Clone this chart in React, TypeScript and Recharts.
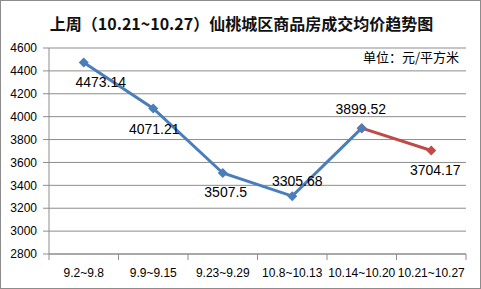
import React from 'react';
import { LineChart, Line, XAxis, YAxis, CartesianGrid } from 'recharts';

const weeks = ['9.2~9.8', '9.9~9.15', '9.23~9.29', '10.8~10.13', '10.14~10.20', '10.21~10.27'];
const prevPrices = [4473.14, 4071.21, 3507.5, 3305.68, 3899.52, null];
const lastPrices = [null, null, null, null, 3899.52, 3704.17];
const yTicks = [2800, 3000, 3200, 3400, 3600, 3800, 4000, 4200, 4400, 4600];

const BLUE = '#4A7EBB';
const RED = '#BE4B48';
const GRID = '#8C8C8C';
const FONT = '"Liberation Sans", Arial, sans-serif';

// where each value label sits relative to its point
const labelNudge = [
  { dx: 17, dy: 19 },
  { dx: 1, dy: 20 },
  { dx: 3, dy: 19 },
  { dx: 5, dy: -15 },
  { dx: -1, dy: -19 },
  { dx: 4, dy: 19 },
];

const data = weeks.map((w, i) => ({
  pos: i + 0.5,
  week: w,
  prev: prevPrices[i],
  last: lastPrices[i],
}));

const xTicks = Array.from({ length: weeks.length * 2 + 1 }, (_, i) => i / 2);

const Diamond = (color: string) => (props: any) => {
  const { cx, cy, index, value } = props;
  if (value == null || cx == null || cy == null) return <g key={index} />;
  const r = 5;
  return (
    <polygon
      key={index}
      points={`${cx},${cy - r} ${cx + r},${cy} ${cx},${cy + r} ${cx - r},${cy}`}
      fill={color}
    />
  );
};

const valueLabel = (only: (i: number) => boolean) => (props: any) => {
  const { x, y, value, index } = props;
  if (value == null || !only(index)) return null;
  const n = labelNudge[index];
  return (
    <text
      key={index}
      x={x + n.dx}
      y={y + n.dy}
      textAnchor="middle"
      dominantBaseline="central"
      fontSize={14}
      fontFamily={FONT}
      fill="#000"
    >
      {value}
    </text>
  );
};

const XTick = (props: any) => {
  const { x, y, payload } = props;
  const v = payload.value as number;
  if (Number.isInteger(v)) {
    return <line x1={x} x2={x} y1={y} y2={y + 6} stroke={GRID} />;
  }
  return (
    <text x={x} y={y + 19} textAnchor="middle" dominantBaseline="central" fontSize={12} fontFamily={FONT} fill="#000">
      {weeks[Math.floor(v)]}
    </text>
  );
};

export default function App() {
  return (
    <div
      style={{
        position: 'absolute',
        left: 0,
        top: 0,
        width: 481,
        height: 289,
        background: '#fff',
        border: '1px solid #8C8C8C',
        boxSizing: 'border-box',
        fontFamily: FONT,
      }}
    >
      <div
        style={{
          position: 'absolute',
          top: 10,
          left: 0,
          width: 481,
          textAlign: 'center',
          fontFamily: '"Noto Sans CJK SC", sans-serif',
          fontWeight: 'bold',
          fontSize: 16,
          lineHeight: '24px',
          color: '#111',
        }}
      >
        上周（10.21~10.27）仙桃城区商品房成交均价趋势图
      </div>
      <div
        style={{
          position: 'absolute',
          top: 47,
          left: 362,
          fontFamily: '"Noto Sans CJK SC", sans-serif',
          fontSize: 13,
          lineHeight: '18px',
          whiteSpace: 'nowrap',
        }}
      >
        单位：元/平方米
      </div>
      <LineChart
        width={481}
        height={289}
        data={data}
        margin={{ top: 48, right: 15, left: 9, bottom: 5 }}
        style={{ position: 'absolute', left: -1, top: -1 }}
      >
        <CartesianGrid vertical={false} stroke={GRID} />
        <XAxis
          dataKey="pos"
          type="number"
          domain={[0, weeks.length]}
          ticks={xTicks}
          interval={0}
          tickSize={0}
          tickMargin={0}
          tickLine={false}
          tick={<XTick />}
          height={30}
          stroke={GRID}
          allowDecimals
        />
        <YAxis
          domain={[2800, 4600]}
          ticks={yTicks}
          interval={0}
          width={40}
          tickSize={6}
          tickMargin={6}
          stroke={GRID}
          tick={{ fill: '#000', fontSize: 12, fontFamily: FONT }}
        />
        <Line
          dataKey="last"
          stroke={RED}
          strokeWidth={3}
          dot={Diamond(RED)}
          activeDot={false}
          label={valueLabel((i) => i === 5)}
          isAnimationActive={false}
        />
        <Line
          dataKey="prev"
          stroke={BLUE}
          strokeWidth={3}
          dot={Diamond(BLUE)}
          activeDot={false}
          label={valueLabel((i) => i < 5)}
          isAnimationActive={false}
        />
      </LineChart>
    </div>
  );
}
